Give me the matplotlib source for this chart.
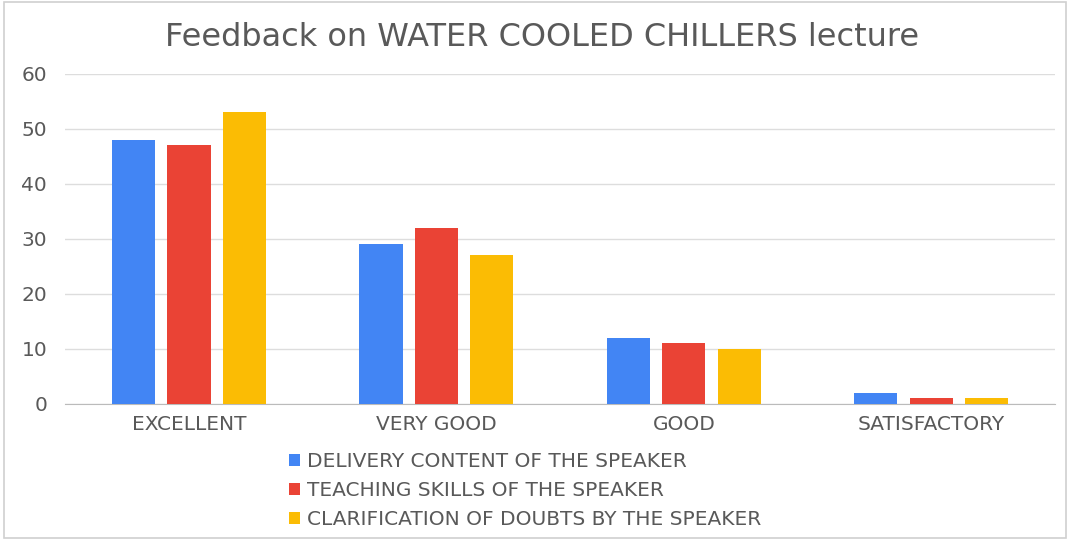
import matplotlib
matplotlib.use("Agg")
import matplotlib.pyplot as plt
from matplotlib.patches import Rectangle
import numpy as np

categories = ["EXCELLENT", "VERY GOOD", "GOOD", "SATISFACTORY"]
series_names = [
    "DELIVERY CONTENT OF THE SPEAKER",
    "TEACHING SKILLS OF THE SPEAKER",
    "CLARIFICATION OF DOUBTS BY THE SPEAKER",
]
delivery = [48, 29, 12, 2]
teaching = [47, 32, 11, 1]
clarification = [53, 27, 10, 1]
yticks = [0, 10, 20, 30, 40, 50, 60]

colors = ["#4285f4", "#ea4335", "#fbbc04"]
text_color = "#595959"

plt.rcParams["font.family"] = ["DejaVu Sans"]

fig = plt.figure(figsize=(10.7, 5.4), dpi=100)
fig.patch.set_facecolor("white")
fig.add_artist(Rectangle((0.004, 0.004), 0.992, 0.992, transform=fig.transFigure,
                         fill=False, edgecolor="#d0d0d0", linewidth=1.2))

ax = fig.add_axes([0.061, 0.252, 0.925, 0.611])
x = np.arange(len(categories))
width = 0.174
step = 0.224
for i, (vals, name) in enumerate(zip([delivery, teaching, clarification], series_names)):
    ax.bar(x + (i - 1) * step, vals, width, color=colors[i], label=name, zorder=3)

ax.set_xlim(-0.5, 3.5)
ax.set_ylim(0, 60)
ax.set_yticks(yticks)
ax.set_xticks(x)
ax.set_xticklabels(categories)
ax.tick_params(axis="both", length=0, colors=text_color, labelsize=14.5)
ax.tick_params(axis="y", pad=13)
ax.tick_params(axis="x", pad=8)
ax.grid(axis="y", color="#dddddd", linewidth=1, zorder=0)
for side in ["top", "right", "left"]:
    ax.spines[side].set_visible(False)
ax.spines["bottom"].set_color("#bbbbbb")

fig.text(0.507, 0.93, "Feedback on WATER COOLED CHILLERS lecture",
         ha="center", va="center", fontsize=23, color=text_color)

leg = fig.legend(loc="upper left", bbox_to_anchor=(0.263, 0.178), frameon=False,
                 fontsize=14.5, handlelength=0.5, handleheight=0.5, handletextpad=0.35,
                 labelspacing=0.5, borderaxespad=0)
for t in leg.get_texts():
    t.set_color(text_color)

fig.savefig("out.png", dpi=100)
